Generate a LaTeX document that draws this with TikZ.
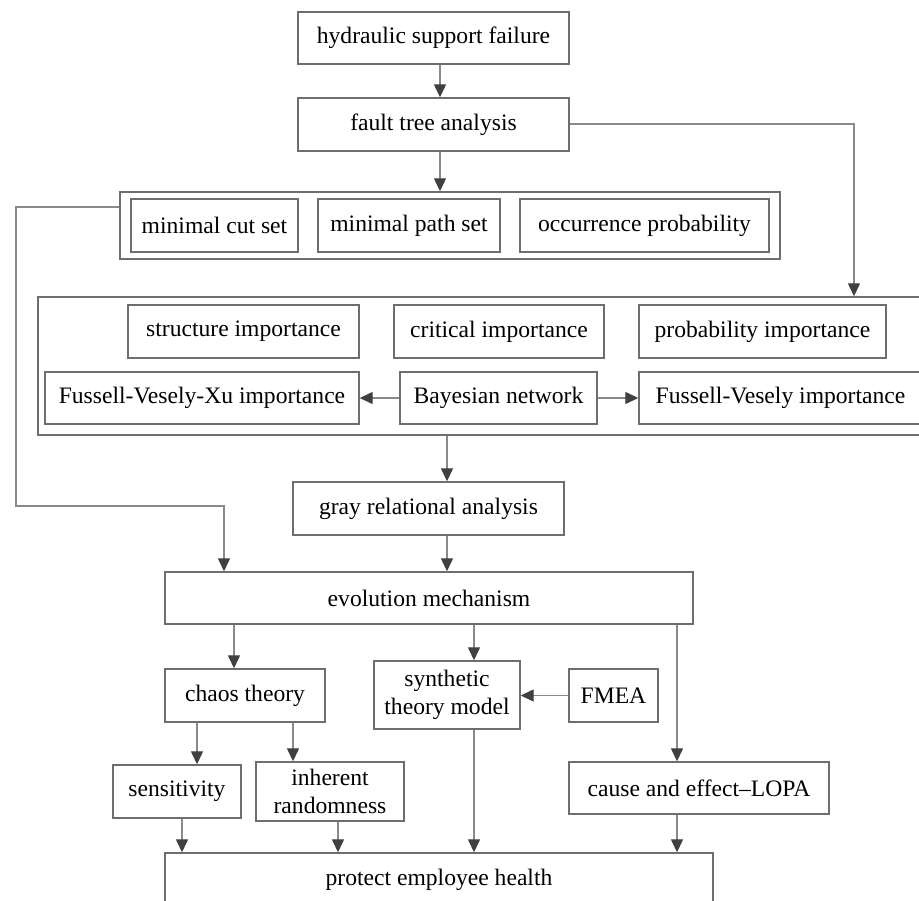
\documentclass[tikz,border=0pt]{standalone}
\usepackage{fontspec}
\setmainfont{Liberation Serif}
\usetikzlibrary{arrows.meta}
\definecolor{boxc}{HTML}{6E6E6E}
\definecolor{linec}{HTML}{8A8A8A}
\definecolor{tipc}{HTML}{404040}
\tikzset{
  bx/.style={draw=boxc, line width=1.4pt, inner sep=0pt, align=center,
    font=\fontsize{23.6pt}{28pt}\selectfont, text=black},
  grp/.style={draw=boxc, line width=1.4pt, inner sep=0pt},
  conn/.style={draw=linec, line width=1.3pt},
  arr/.style={conn, -{Triangle[length=13pt,width=12pt,color=tipc,fill=tipc]}}
}
\begin{document}
\begin{tikzpicture}[x=1pt,y=-1pt]
\useasboundingbox (0,0) rectangle (919,901);
\clip (0,0) rectangle (919,901);
% top
\node[bx, minimum width=271pt, minimum height=52pt] (hyd) at (433.5,38) {hydraulic support failure};
\node[bx, minimum width=271pt, minimum height=53pt] (fta) at (433.5,124.5) {fault tree analysis};
% group 1
\node[grp, minimum width=660pt, minimum height=67pt] (g1) at (450,225.5) {};
\node[bx, minimum width=167pt, minimum height=53pt] (mcs) at (214.5,225.5) {minimal cut set};
\node[bx, minimum width=182pt, minimum height=53pt] (mps) at (409,225.5) {minimal path set};
\node[bx, minimum width=249pt, minimum height=53pt] (occ) at (644.5,225.5) {occurrence probability};
% group 2
\node[grp, minimum width=902pt, minimum height=138pt] (g2) at (489,366) {};
\node[bx, minimum width=231pt, minimum height=53pt] (str) at (243.5,331.5) {structure importance};
\node[bx, minimum width=210pt, minimum height=53pt] (crit) at (499,331.5) {critical importance};
\node[bx, minimum width=247pt, minimum height=53pt] (prob) at (762.5,331.5) {probability importance};
\node[bx, minimum width=314pt, minimum height=52pt] (fvx) at (202,398) {Fussell-Vesely-Xu importance};
\node[bx, minimum width=197pt, minimum height=52pt] (bay) at (498.5,398) {Bayesian network};
\node[bx, minimum width=283pt, minimum height=52pt] (fv) at (780.5,398) {Fussell-Vesely importance};
% middle
\node[bx, minimum width=271pt, minimum height=53pt] (gray) at (428.5,508.5) {gray relational analysis};
\node[bx, minimum width=528pt, minimum height=52pt] (evo) at (429,598) {evolution mechanism};
% lower
\node[bx, minimum width=160pt, minimum height=53pt] (chaos) at (245,695.5) {chaos theory};
\node[bx, minimum width=146pt, minimum height=68pt] (syn) at (447,695) {synthetic\\theory model};
\node[bx, minimum width=89pt, minimum height=53pt] (fmea) at (613.5,695.5) {FMEA};
\node[bx, minimum width=128pt, minimum height=53pt] (sens) at (177,791.5) {sensitivity};
\node[bx, minimum width=148pt, minimum height=59pt] (inh) at (330,791.5) {inherent\\randomness};
\node[bx, minimum width=260pt, minimum height=52pt] (cause) at (699,788) {cause and effect--LOPA};
\node[bx, minimum width=548pt, minimum height=53pt] (prot) at (439,879.5) {protect employee health};
% helper coordinates
\coordinate (xa) at (440,0);
\coordinate (xb) at (447,0);
\coordinate (c1) at (854,124);
\coordinate (l1) at (16,207);
\coordinate (l2) at (16,506);
\coordinate (l3) at (224,506);
\coordinate (xe1) at (234,0);
\coordinate (xe2) at (474,0);
\coordinate (xe3) at (677,0);
\coordinate (xc1) at (197,0);
\coordinate (xc2) at (293,0);
\coordinate (xs) at (182,0);
\coordinate (xi) at (338,0);
% connectors
\draw[arr] (hyd.south -| xa) -- (fta.north -| xa);
\draw[arr] (fta.south -| xa) -- (g1.north -| xa);
\draw[arr] (fta.east |- c1) -- (c1) -- (g2.north -| c1);
\draw[arr] (g1.west |- l1) -- (l1) -- (l2) -- (l3) -- (evo.north -| l3);
\draw[arr] (bay.west) -- (fvx.east);
\draw[arr] (bay.east) -- (fv.west);
\draw[arr] (g2.south -| xb) -- (gray.north -| xb);
\draw[arr] (gray.south -| xb) -- (evo.north -| xb);
\draw[arr] (evo.south -| xe1) -- (chaos.north -| xe1);
\draw[arr] (evo.south -| xe2) -- (syn.north -| xe2);
\draw[arr] (evo.south -| xe3) -- (cause.north -| xe3);
\draw[arr] (fmea.west) -- (syn.east |- fmea.west);
\draw[arr] (chaos.south -| xc1) -- (sens.north -| xc1);
\draw[arr] (chaos.south -| xc2) -- (inh.north -| xc2);
\draw[arr] (sens.south -| xs) -- (prot.north -| xs);
\draw[arr] (inh.south -| xi) -- (prot.north -| xi);
\draw[arr] (syn.south -| xe2) -- (prot.north -| xe2);
\draw[arr] (cause.south -| xe3) -- (prot.north -| xe3);
\end{tikzpicture}
\end{document}
